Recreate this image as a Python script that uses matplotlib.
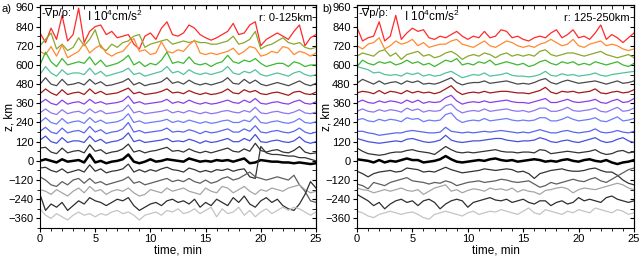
import matplotlib
matplotlib.use("Agg")
import matplotlib.pyplot as plt
import numpy as np
from matplotlib.ticker import MultipleLocator

plt.rcParams['font.family'] = ['Liberation Sans', 'DejaVu Sans']
plt.rcParams['mathtext.default'] = 'regular'

# time grid (min)
time_min = np.arange(0, 25.01, 0.5)

# ---------- panel a: r 0-125 km ----------
a_offsets = [770, 720, 665, 600, 540, 480, 420, 360, 300, 240, 180, 120, 60, 0, -60, -130, -190, -250, -320]
a_red = [30,-30,60,-10,140,-20,20,185,-30,40, 70,80,20,40,0,10,20,-40,-70,10, 30,-10,60,100,20,10,30,80,60,20, 0,-15,0,20,40,90,20,30,80,100, -50,-10,10,30,10,-10,40,80,-50,0, 20]
a_olive = [0,40,80,-20,10,-30,-10,50,0,40, 100,-10,-30,10,-10,20,30,60,70,-10, 10,20,30,40,10,20,30,20,30,20, 20,10,10,20,30,60,10,20,40,90, -20,0,10,30,50,20,10,20,-10,-20, -10]
a_orange = [20,0,50,-10,60,-20,0,20,70,10, 40,60,10,-10,10,20,60,100,20,30, 0,10,80,20,10,30,20,60,90,10, 0,10,0,10,20,40,0,20,50,40, -10,0,20,10,50,40,0,20,10,-10, 10]
a_green = [0,80,20,-10,40,0,10,20,10,50, 0,30,-10,0,10,30,60,0,20,-10, 10,0,30,80,10,20,10,50,10,0, 10,-10,10,20,60,20,10,30,20,40, 10,-10,0,10,10,-10,20,10,-10,0, 0]
a_teal = [0,50,10,-10,30,0,10,10,0,40, 0,20,-10,0,10,20,40,0,10,-10, 0,10,20,50,10,20,0,30,10,0, 10,0,10,20,50,10,0,20,10,30, 0,-10,0,10,0,-10,10,20,0,-10, 0]
a_gray = [0,40,0,-10,30,-5,0,10,-5,30, 0,15,-10,-5,5,15,35,-5,10,-10, 0,5,15,40,5,15,0,25,5,-5, 5,-5,5,15,40,5,0,30,5,25, 0,-10,0,10,0,-10,5,20,0,-10, 5]
a_brown = [0,30,5,-10,25,-5,5,10,-5,30, 0,15,-5,0,5,20,35,0,10,-5, 0,5,15,30,5,10,0,20,5,-5, 5,-5,0,10,30,5,0,25,10,20, 0,-5,5,10,0,-10,10,15,0,-5, 10]
a_purple = [0,25,0,-10,20,-5,5,10,-5,25, 0,10,-5,0,5,15,45,0,10,-5, 0,5,10,25,0,10,0,20,5,-5, 5,-5,0,10,20,5,0,20,5,30, 0,-5,5,10,0,-5,10,20,0,-5, 10]
a_violet = [0,25,0,-10,20,-5,5,10,-5,25, 0,15,-5,0,5,15,50,0,10,-5, 0,5,10,20,0,10,0,15,5,-5, 5,-5,0,10,15,5,0,15,5,35, 0,-5,5,10,0,-5,5,20,0,-5, 5]
a_blue1 = [0,30,0,-10,25,-5,5,10,-5,30, 0,15,-5,0,5,20,55,0,10,-5, 0,5,10,20,0,10,0,15,5,-5, 5,-5,0,10,15,0,0,15,5,40, 0,-5,5,10,0,-5,5,25,0,-5, 5]
a_blue2 = [5,30,0,-10,25,-5,5,10,-5,35, 0,15,-10,0,5,20,60,0,10,-5, 0,5,10,25,0,5,0,15,5,-10, 5,-5,0,10,20,0,0,20,5,40, 0,-5,5,10,0,-5,5,25,0,-10, 0]
a_blue3 = [10,35,0,-10,25,-5,5,5,-5,35, 0,15,-10,0,5,20,55,0,10,-5, 0,5,10,20,0,5,0,15,5,-10, 5,-5,0,10,20,0,0,20,5,45, 0,-5,5,10,0,-5,5,30,0,-10, 0]
a_dark60 = [20,25,-5,-15,20,-10,0,5,-10,40, 0,10,-15,-5,0,15,45,-5,5,-10, 0,5,15,25,0,5,-5,15,0,-10, 0,-10,0,10,20,0,-5,15,0,50, 5,-5,5,10,-5,-10,5,30,-5,-15, -10]
a_black = [0,10,0,-10,10,-5,0,5,-10,40, -10,0,-15,-5,0,10,40,-5,-15,-5, 10,-5,0,10,5,0,-5,15,5,-5, 0,-5,5,0,5,-5,5,15,-15,-10, 5,0,-5,-5,-10,-10,-15,-10,-15,-20, -15]
a_dm60 = [15,20,0,-10,10,-15,-5,5,-10,35, -5,10,-15,-5,0,10,40,-10,5,-10, 5,-5,10,20,5,0,-10,15,5,-10, 0,-10,5,0,10,-5,5,10,-40,-50, 150,110,100,100,95,90,90,80,80,70, 60]
a_gray130 = [30,10,-20,-30,0,-20,10,20,-10,20, -10,0,-20,-10,0,10,30,-10,0,-20, -10,0,10,20,0,10,0,20,0,-10, 10,-10,0,20,30,10,20,40,60,30, 20,10,20,30,20,10,40,-20,-60,-120, -130]
a_lgray190 = [10,0,-20,10,-10,-30,0,20,-10,30, 0,10,-20,0,10,0,20,-10,-30,-20, 10,0,-10,20,0,10,20,0,-10,-20, 20,0,-10,30,20,-10,10,30,0,-20, 10,0,20,10,0,20,30,40,10,-10, 0]
a_dkgray250 = [40,-60,-20,-40,-10,-60,-30,0,-20,20, 0,-10,-30,-10,10,0,20,-30,-60,-40, -20,-10,-30,0,10,-10,0,-20,10,-40, -10,-30,10,-10,-30,20,-10,30,-20,-40, 0,20,-10,10,-30,-50,-60,-20,40,120, 80]
a_lgray320 = [20,-20,-40,-10,-30,-50,-20,0,-20,-10, -30,-10,-20,0,10,-10,0,-20,-50,-20, -10,0,-20,10,0,20,-10,0,20,-10, 10,30,-30,20,-10,0,30,-20,10,-30, 0,20,-10,10,30,10,30,20,0,-20, 0]

# ---------- panel b: r 125-250 km ----------
b_offsets = [760, 710, 655, 600, 530, 485, 425, 365, 310, 250, 175, 120, 50, 0, -60, -125, -180, -240, -315]
b_red = [75,-10,10,20,110,-10,20,150,0,40, 70,50,60,10,0,20,10,30,50,20, 0,20,10,50,10,20,60,50,10,20, 0,-10,10,20,10,40,60,10,30,60, 10,20,0,40,90,0,30,10,-20,10, 40]
b_orange = [10,-10,20,30,60,-10,10,40,20,30, 50,10,30,0,10,20,20,40,50,20, 10,0,20,40,10,0,20,40,30,10, 0,10,0,20,30,50,30,10,20,50, 10,0,20,30,40,10,20,10,-10,-20, -10]
b_olive = [0,20,10,0,30,40,0,20,-20,10, 20,30,0,10,-10,0,20,30,10,-20, 0,10,0,20,10,-10,10,20,0,10, 0,10,0,30,40,10,0,10,20,20, 10,0,10,20,30,10,0,-10,0,10, -10]
b_green = [-10,30,10,0,20,10,20,0,10,30, 10,20,0,10,-10,10,30,20,40,0, 10,0,20,10,30,0,10,20,10,0, 10,-10,0,20,30,10,0,20,10,20, 0,10,0,20,10,0,10,20,0,-10, 10]
b_teal = [60,50,40,20,25,10,5,10,0,20, 10,20,0,10,0,5,20,30,10,-10, 0,10,5,20,0,5,10,20,5,0, 0,-5,0,10,30,5,0,15,5,10, 0,5,10,20,5,0,10,15,20,25, 30]
b_gray = [0,25,10,-5,15,-5,5,10,-5,15, 5,15,-5,0,-5,5,20,35,5,-10, 0,5,5,15,0,5,10,15,5,-5, 0,-5,5,20,30,5,-5,10,20,10, 0,5,10,15,5,-5,5,15,0,5, 15]
b_brown = [0,10,5,-5,15,-5,10,5,-5,15, 0,10,0,5,-5,5,25,45,10,-10, 0,5,0,10,0,5,10,10,5,0, 0,-5,5,15,35,5,-5,10,5,10, 0,5,10,25,0,-5,5,10,0,5, 20]
b_purple = [0,15,0,-5,10,0,10,5,-5,15, 0,15,-5,5,0,5,30,45,10,-10, 0,5,0,10,0,5,10,15,5,0, 0,-5,5,15,25,0,0,10,20,5, 0,5,10,20,0,-5,10,20,0,5, 25]
b_violet = [0,15,0,-5,10,0,10,5,-5,20, 5,15,-5,5,0,5,35,45,10,-10, 0,5,0,15,0,5,10,15,5,0, 5,-5,5,20,20,0,0,10,25,5, 0,5,10,20,0,-5,10,25,0,5, 20]
b_blue1 = [5,15,0,-5,10,0,10,5,-5,20, 10,15,-5,5,0,5,40,50,10,-10, 0,5,0,15,0,5,10,15,5,0, 5,0,5,20,20,0,0,10,25,10, 0,5,10,20,0,-5,10,25,0,5, 15]
b_blue2 = [10,10,0,-5,-15,-10,-5,0,0,10, 15,10,5,0,0,5,35,10,5,0, 5,0,5,10,5,10,15,10,5,0, 5,0,10,20,10,0,0,10,15,5, 0,5,10,25,5,0,5,15,5,0, 10]
b_blue3 = [20,10,0,-5,-10,-5,0,5,0,15, 20,10,0,-5,0,10,40,10,0,-5, 0,5,5,10,15,20,20,10,5,0, 5,5,10,25,15,0,-5,5,10,0, -5,5,15,25,5,-5,0,15,25,5, -5]
b_dark60 = [30,10,-5,-10,-15,-10,0,5,5,15, 20,10,5,0,-10,15,40,20,5,0, 5,0,5,10,15,20,10,5,5,0, 5,5,0,20,15,-5,0,5,10,5, 0,5,10,20,0,-10,-5,10,15,0, 5]
b_black = [10,5,0,-10,5,-10,0,-5,5,15, 5,5,-10,-5,0,10,30,10,-5,-10, -5,0,5,0,10,15,5,0,5,-5, 0,5,10,5,-5,0,-5,5,10,0, -5,5,10,0,-5,5,-10,-20,-10,-5, 5]
b_dm60 = [-5,-20,-40,-20,-10,-5,0,-10,-5,15, 10,5,-10,-5,-10,5,20,5,-5,-15, -10,-5,0,10,5,0,5,10,5,-10, -5,-20,-50,-20,-10,0,5,10,0,-5, -5,0,10,15,0,-10,-10,-30,-60,-80, -90]
b_gray125 = [-20,-30,-50,-10,-20,-30,-10,0,10,20, 0,-5,-10,-20,-10,-15,0,-10,-30,-20, -10,-5,0,-10,-5,0,10,5,-5,-10, -5,0,-20,-40,-30,-10,-20,-10,0,10, 0,-5,10,20,0,-10,10,30,50,70, 80]
b_lgray180 = [10,0,-5,-20,-10,0,-10,0,10,-5, -10,0,-30,-10,10,20,30,-10,0,-20, -5,5,0,-10,10,0,5,-5,10,-15, 0,-10,-15,-30,-5,0,10,15,5,-20, 0,10,5,0,10,20,30,40,30,10, 0]
b_dkgray240 = [30,10,-10,-40,-20,-60,-30,-10,0,-20, -10,-40,-10,0,-20,-60,-30,-10,0,-10, -50,-20,-10,0,10,-5,-10,0,-20,-10, 0,-20,-30,-10,-10,-40,-20,-10,-30,-20, 10,-10,0,-10,-20,10,20,0,-10,-20, -10]
b_lgray315 = [0,-10,-30,-40,-20,-10,0,-10,-20,-10, -5,-20,-40,-50,-20,-10,0,-10,-20,-30, -10,0,-20,-10,0,-5,10,0,-10,-20, 0,20,-10,-20,10,0,-10,-20,0,-10, 10,0,-10,20,10,0,-10,10,0,-20, -10]

a_series = [a_red, a_olive, a_orange, a_green, a_teal, a_gray, a_brown, a_purple, a_violet,
            a_blue1, a_blue2, a_blue3, a_dark60, a_black, a_dm60, a_gray130, a_lgray190, a_dkgray250, a_lgray320]
b_series = [b_red, b_orange, b_olive, b_green, b_teal, b_gray, b_brown, b_purple, b_violet,
            b_blue1, b_blue2, b_blue3, b_dark60, b_black, b_dm60, b_gray125, b_lgray180, b_dkgray240, b_lgray315]

a_colors = ['#ff2a2a', '#8aa82c', '#ff8a30', '#3cb832', '#52c29e', '#4a4a4a', '#a31a1a', '#8c3ee6',
            '#8a78f2', '#6c7cfa', '#5a66f0', '#4650dc', '#333333', '#000000', '#333333', '#5e5e5e',
            '#a6a6a6', '#2e2e2e', '#c4c4c4']
b_colors = ['#ff2a2a', '#ff8a30', '#8aa82c', '#3cb832', '#52c29e', '#4a4a4a', '#a31a1a', '#8c3ee6',
            '#8a78f2', '#6c7cfa', '#5a66f0', '#4650dc', '#333333', '#000000', '#333333', '#5e5e5e',
            '#a6a6a6', '#2e2e2e', '#c4c4c4']

fig = plt.figure(figsize=(6.4, 2.56), dpi=100)
ax_a = fig.add_axes([40/640, 28/256, 276/640, 223/256])
ax_b = fig.add_axes([357/640, 28/256, 277/640, 223/256])

def draw(ax, series, offsets, colors, rlabel, ylab_x):
    for vals, off, c in zip(series, offsets, colors):
        lw = 1.8 if c == '#000000' else 0.9
        ax.plot(time_min, np.array(vals) + off, color=c, lw=lw)
    ax.set_xlim(0, 25)
    ax.set_ylim(-420, 975)
    ax.xaxis.set_major_locator(MultipleLocator(5))
    ax.xaxis.set_minor_locator(MultipleLocator(1))
    ax.yaxis.set_major_locator(MultipleLocator(120))
    ax.yaxis.set_minor_locator(MultipleLocator(60))
    ax.tick_params(which='both', direction='out', labelsize=8, pad=1.5)
    ax.tick_params(which='major', length=3)
    ax.tick_params(which='minor', length=2)
    sx = ax.secondary_xaxis('top')
    sx.xaxis.set_major_locator(MultipleLocator(5))
    sx.xaxis.set_minor_locator(MultipleLocator(1))
    sx.tick_params(which='both', direction='in', labeltop=False, length=3)
    sy = ax.secondary_yaxis('right')
    sy.yaxis.set_major_locator(MultipleLocator(120))
    sy.yaxis.set_minor_locator(MultipleLocator(60))
    sy.tick_params(which='both', direction='in', labelright=False, length=3)
    ax.set_xlabel('time, min', fontsize=8.5, labelpad=0)
    ax.set_ylabel('z, km', fontsize=8.5)
    ax.yaxis.set_label_coords(ylab_x, 0.5)
    ax.text(0.005, 0.985, '-\u2207p/\u03c1:', transform=ax.transAxes, ha='left', va='top', fontsize=8)
    ax.text(0.17, 0.985, 'I 10$^4$cm/s$^2$', transform=ax.transAxes, ha='left', va='top', fontsize=8.5)
    ax.text(0.985, 0.965, rlabel, transform=ax.transAxes, ha='right', va='top', fontsize=8)

draw(ax_a, a_series, a_offsets, a_colors, 'r: 0-125km', -0.088)
draw(ax_b, b_series, b_offsets, b_colors, 'r: 125-250km', -0.09)

fig.text(2/640, 1 - 9/256, 'a)', ha='left', va='center', fontsize=8)
fig.text(322/640, 1 - 9/256, 'b)', ha='left', va='center', fontsize=8)

fig.savefig('out.png', dpi=100)
